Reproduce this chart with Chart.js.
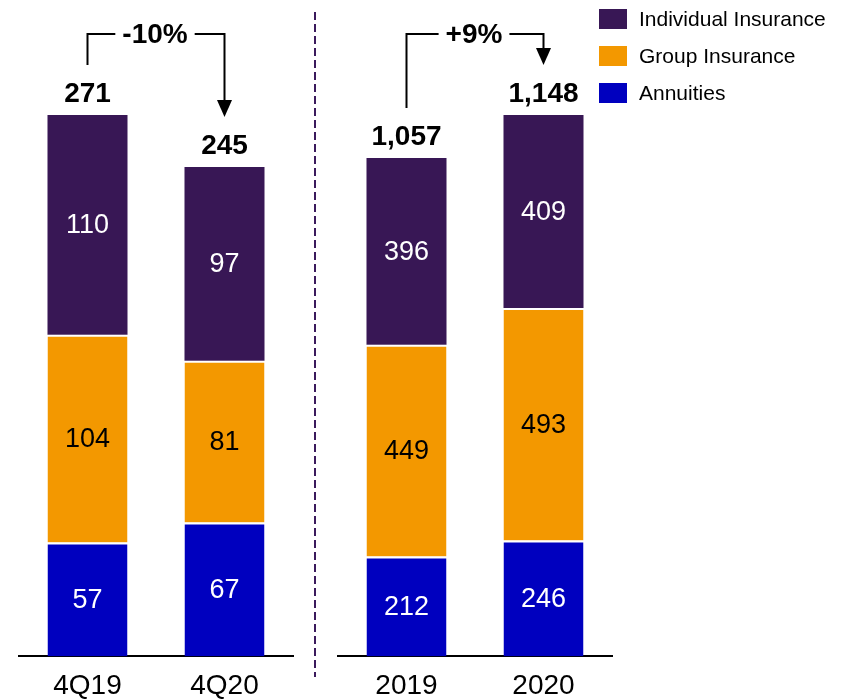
<!DOCTYPE html>
<html>
<head>
<meta charset="utf-8">
<script src="https://cdn.jsdelivr.net/npm/chart.js@4"></script>
<style>
  html, body { margin: 0; padding: 0; background: #fff; overflow: hidden; }
  body { width: 846px; height: 700px; position: relative; font-family: "Liberation Sans", Arial, sans-serif; }
  #leftChart { position: absolute; left: 0; top: 0; }
  #rightChart { position: absolute; left: 320px; top: 0; }
  #legend { position: absolute; left: 599px; top: 9px; }
  .item { display: flex; align-items: center; height: 20px; margin-bottom: 17px; font-size: 21px; color: #000; white-space: nowrap; }
  .swatch { width: 28px; height: 20px; margin-right: 12px; }
</style>
</head>
<body>
<canvas id="leftChart" width="320" height="716"></canvas>
<canvas id="rightChart" width="300" height="716"></canvas>
<div id="legend"></div>
<script>
const seriesNames = ['Annuities', 'Group Insurance', 'Individual Insurance'];
const seriesColors = ['#0000BF', '#F39800', '#381755'];
const labelColors = ['#ffffff', '#000000', '#ffffff'];

const quarterLabels = ['4Q19', '4Q20'];
const quarterAnnuities = [57, 67];
const quarterGroup = [104, 81];
const quarterIndividual = [110, 97];
const quarterTotals = [271, 245];
const quarterChange = '-10%';

const yearLabels = ['2019', '2020'];
const yearAnnuities = [212, 246];
const yearGroup = [449, 493];
const yearIndividual = [396, 409];
const yearTotals = [1057, 1148];
const yearChange = '+9%';

const family = '"Liberation Sans", Arial, sans-serif';

// segment values, totals, the change bracket and the divider
const bracketPlugin = {
  id: 'bracket',
  afterDatasetsDraw(chart, args, opts) {
    const ctx = chart.ctx;
    ctx.save();
    ctx.textAlign = 'center';

    chart.data.datasets.forEach((ds, k) => {
      const meta = chart.getDatasetMeta(k);
      meta.data.forEach((bar, i) => {
        ctx.fillStyle = labelColors[k];
        ctx.font = '27px ' + family;
        ctx.textBaseline = 'middle';
        ctx.fillText(ds.data[i], bar.x, (bar.y + bar.base) / 2 + 1);
      });
    });

    const top = chart.getDatasetMeta(chart.data.datasets.length - 1).data;
    ctx.fillStyle = '#000';
    ctx.font = 'bold 28px ' + family;
    ctx.textBaseline = 'alphabetic';
    top.forEach((bar, i) => {
      ctx.fillText(opts.totals[i].toLocaleString('en-US'), bar.x, bar.y - 13);
    });

    // bracket with arrow
    const x0 = top[0].x, x1 = top[1].x;
    const lineY = chart.chartArea.top - 81;
    const startY = top[0].y - 50;
    const tipY = top[1].y - 50;
    const mid = (x0 + x1) / 2 - 1;
    const half = ctx.measureText(opts.change).width / 2 + 7;
    ctx.strokeStyle = '#000';
    ctx.lineWidth = 2;
    ctx.beginPath();
    ctx.moveTo(x0, startY);
    ctx.lineTo(x0, lineY);
    ctx.lineTo(mid - half, lineY);
    ctx.moveTo(mid + half, lineY);
    ctx.lineTo(x1, lineY);
    ctx.lineTo(x1, tipY - 16);
    ctx.stroke();
    ctx.beginPath();
    ctx.moveTo(x1 - 7.5, tipY - 17);
    ctx.lineTo(x1 + 7.5, tipY - 17);
    ctx.lineTo(x1, tipY);
    ctx.closePath();
    ctx.fill();
    ctx.textBaseline = 'middle';
    ctx.fillText(opts.change, mid, lineY + 1);

    if (opts.divider) {
      ctx.strokeStyle = '#3B1A5C';
      ctx.lineWidth = 2;
      ctx.setLineDash([8, 4]);
      ctx.beginPath();
      ctx.moveTo(315, 12);
      ctx.lineTo(315, 677);
      ctx.stroke();
    }
    ctx.restore();
  }
};

function makeChart(id, labels, annuities, group, individual, totals, change, padLeft, padRight, divider) {
  const values = [annuities, group, individual];
  return new Chart(document.getElementById(id), {
    type: 'bar',
    data: {
      labels: labels,
      datasets: values.map((v, k) => ({
        label: seriesNames[k],
        data: v,
        backgroundColor: seriesColors[k],
        borderColor: '#ffffff',
        borderWidth: k < 2 ? { top: 2, left: 0, right: 0, bottom: 0 } : 0,
        borderSkipped: false,
        barPercentage: 0.584,
        categoryPercentage: 1
      }))
    },
    options: {
      responsive: false,
      animation: false,
      layout: { padding: { left: padLeft, right: padRight, top: 115, bottom: 0 } },
      plugins: {
        legend: { display: false },
        tooltip: { enabled: false },
        bracket: { totals: totals, change: change, divider: divider }
      },
      scales: {
        x: {
          stacked: true,
          z: 1,
          grid: { display: false, drawTicks: false },
          border: { display: true, color: '#000', width: 2 },
          ticks: { color: '#000', padding: 13, font: { family: family, size: 28 } }
        },
        y: { stacked: true, display: false, min: 0, max: Math.max(...totals) }
      }
    },
    plugins: [bracketPlugin]
  });
}

makeChart('leftChart', quarterLabels, quarterAnnuities, quarterGroup, quarterIndividual, quarterTotals, quarterChange, 19, 27, true);
makeChart('rightChart', yearLabels, yearAnnuities, yearGroup, yearIndividual, yearTotals, yearChange, 18, 8, false);

// legend, top item first
const legend = document.getElementById('legend');
for (let k = seriesNames.length - 1; k >= 0; k--) {
  const row = document.createElement('div');
  row.className = 'item';
  row.innerHTML = '<span class="swatch" style="background:' + seriesColors[k] + '"></span>' + seriesNames[k];
  legend.appendChild(row);
}
</script>
</body>
</html>
